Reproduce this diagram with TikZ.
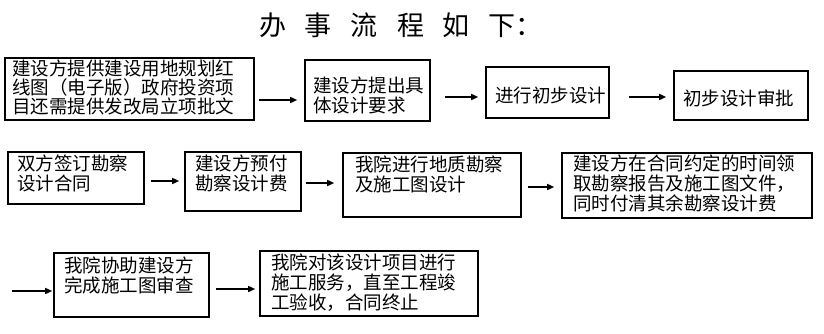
\documentclass[tikz,border=0pt]{standalone}
\usepackage{fontspec}
\newfontfamily\cjk{Noto Sans CJK SC}
\usetikzlibrary{arrows.meta}
\begin{document}
\begin{tikzpicture}[x=1pt,y=-1pt,
  box/.style={draw=black,line width=1.6pt,inner sep=0pt},
  txt/.style={anchor=north west,inner sep=0pt,align=left,font=\cjk\fontsize{18.5}{20}\selectfont},
  arr/.style={line width=1.5pt,-{Triangle[length=7pt,width=6pt]}}]
\useasboundingbox (0,0) rectangle (824,333);
\node[font=\cjk\fontsize{27}{30}\selectfont,inner sep=0pt] (title) at (401,25)
  {办\hspace{19pt}事\hspace{19pt}流\hspace{19pt}程\hspace{19pt}如\hspace{19pt}下：};
% row 1
\node[box,minimum width=249pt,minimum height=62pt] (a) at (129.5,89) {};
\node[txt,font=\cjk\fontsize{18.5}{19}\selectfont] (ta) at (12,60) {建设方提供建设用地规划红\\线图（电子版）政府投资项\\目还需提供发改局立项批文};
\node[box,minimum width=125pt,minimum height=61pt] (b) at (367.5,90.5) {};
\node[txt] (tb) at (313,77) {建设方提出具\\体设计要求};
\node[box,minimum width=123pt,minimum height=51pt] (c) at (547.5,92.5) {};
\node[txt,anchor=west] (tc) at (495,95) {进行初步设计};
\node[box,minimum width=134pt,minimum height=49pt] (d) at (741,95.5) {};
\node[txt,anchor=west] (td) at (683,98) {初步设计审批};
% row 2
\node[box,minimum width=136pt,minimum height=52pt] (e) at (76,178) {};
\node[txt] (te) at (17,155) {双方签订勘察\\设计合同};
\node[box,minimum width=116pt,minimum height=59pt] (f) at (243,181.5) {};
\node[txt] (tf) at (195,155) {建设方预付\\勘察设计费};
\node[box,minimum width=178pt,minimum height=64pt] (g) at (432,185) {};
\node[txt] (tg) at (355,156) {我院进行地质勘察\\及施工图设计};
\node[box,minimum width=250pt,minimum height=65pt] (h) at (687,185.5) {};
\node[txt] (th) at (573,155) {建设方在合同约定的时间领\\取勘察报告及施工图文件，\\同时付清其余勘察设计费};
% row 3
\node[box,minimum width=155pt,minimum height=64pt] (i) at (131.5,285) {};
\node[txt] (ti) at (64,257) {我院协助建设方\\完成施工图审查};
\node[box,minimum width=218pt,minimum height=65pt] (j) at (369,283.5) {};
\node[txt] (tj) at (271,254) {我院对该设计项目进行\\施工服务，直至工程竣\\工验收，合同终止};
\coordinate (s) at (12,291);
% arrows
\draw[arr,shorten <=4pt,shorten >=7pt] (a.east |- 0,100) -- (b.west |- 0,100);
\draw[arr,shorten <=14pt,shorten >=7pt] (b.east |- 0,97) -- (c.west |- 0,97);
\draw[arr,shorten <=19pt,shorten >=7pt] (c.east |- 0,97) -- (d.west |- 0,97);
\draw[arr,shorten <=6pt,shorten >=5pt] (e.east |- 0,181) -- (f.west |- 0,181);
\draw[arr,shorten <=4pt,shorten >=8pt] (f.east |- 0,183) -- (g.west |- 0,183);
\draw[arr,shorten <=6pt,shorten >=7pt] (g.east |- 0,187) -- (h.west |- 0,187);
\draw[arr,shorten >=1pt] (s) -- (i.west |- 0,291);
\draw[arr,shorten <=6pt,shorten >=4pt] (i.east |- 0,289) -- (j.west |- 0,289);
\end{tikzpicture}
\end{document}
